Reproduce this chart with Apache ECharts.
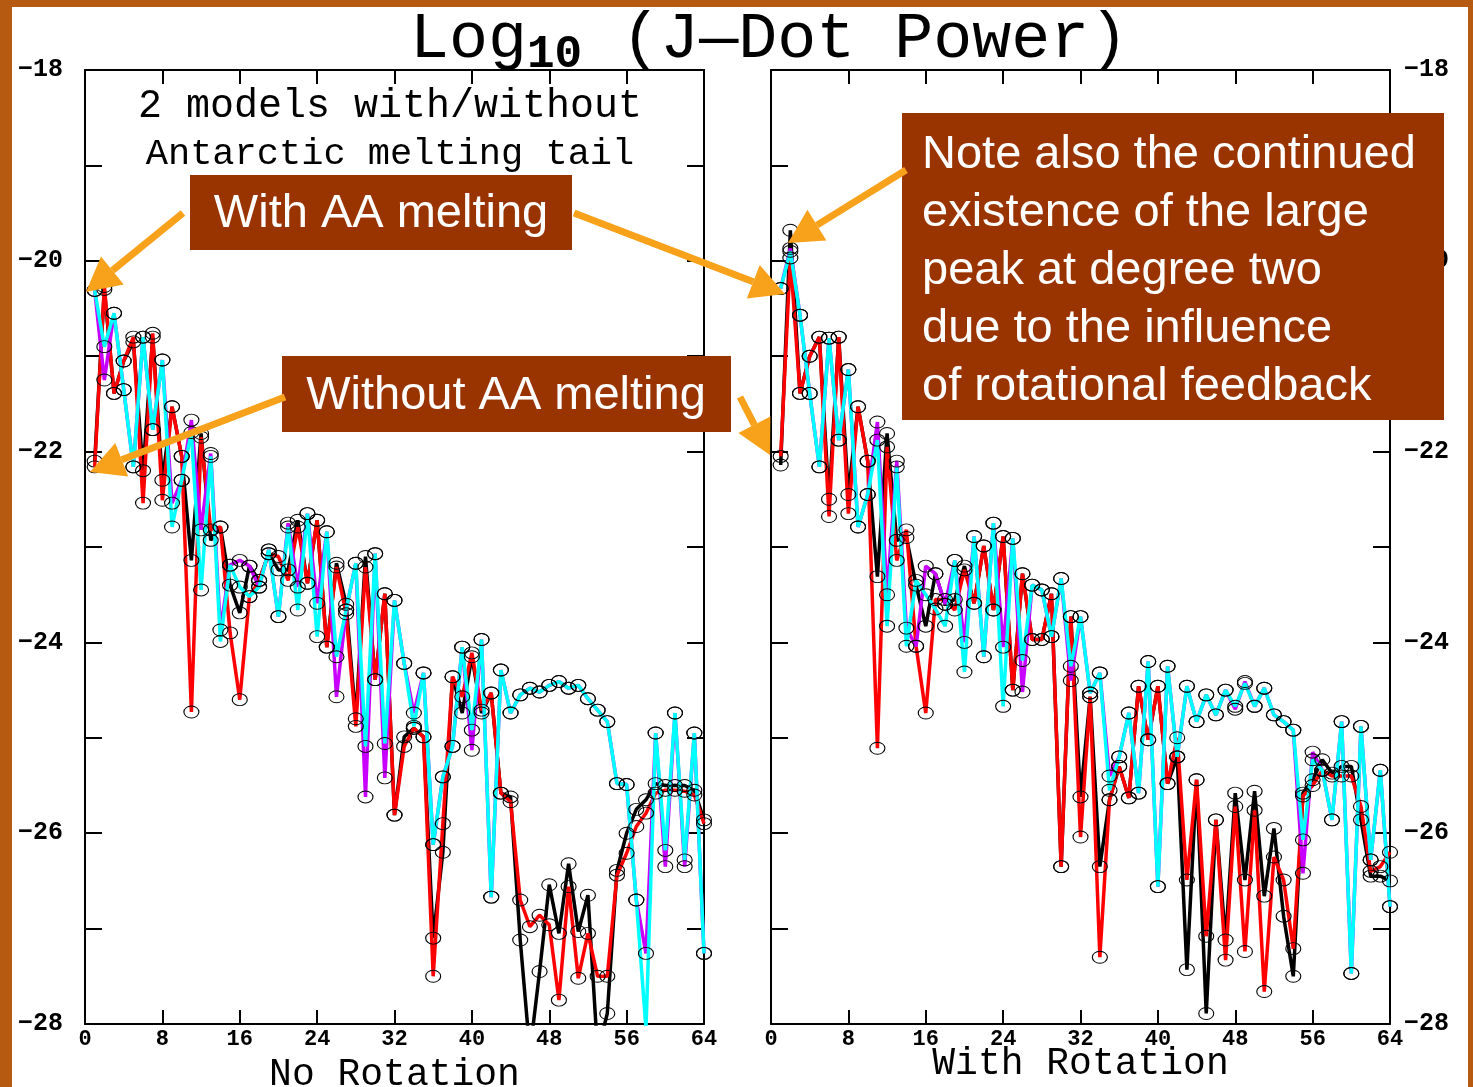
<!DOCTYPE html>
<html>
<head>
<meta charset="utf-8">
<script src="https://cdn.jsdelivr.net/npm/echarts@6/dist/echarts.min.js"></script>
<style>
html,body{margin:0;padding:0;background:#b65a12;}
#chart{width:1473px;height:1087px;}
</style>
</head>
<body>
<div id="chart"></div>
<script>
// spherical-harmonic degrees
const degrees = [1,2,3,4,5,6,7,8,9,10,11,12,13,14,15,16,17,18,19,20,21,22,23,24,25,26,27,28,29,30,31,32,
  33,34,35,36,37,38,39,40,41,42,43,44,45,46,47,48,49,50,51,52,53,54,55,56,57,58,59,60,61,62,63,64];

// ---- No Rotation panel ----
const blackL = [-22.10,-20.30,-21.39,-21.05,-20.85,-22.20,-20.80,-22.30,-21.53,-22.05,
 -23.14,-21.81,-22.93,-22.79,-23.40,-23.69,-23.20,-23.35,-23.07,-23.24,
 -23.24,-22.72,-23.38,-22.72,-24.05,-23.17,-23.60,-24.80,-23.10,-24.39,
 -23.49,-25.81,-24.99,-24.90,-24.99,-27.10,-26.20,-24.36,-24.74,-24.15,
 -24.74,-24.53,-25.58,-25.62,-27.12,-28.30,-27.45,-26.54,-27.05,-26.32,
 -27.03,-26.65,-28.30,-27.89,-26.39,-26.00,-25.75,-25.65,-25.48,-25.50,
 -25.50,-25.50,-25.55,-25.86];
const redL = [-22.16,-20.27,-21.39,-21.05,-20.80,-22.54,-20.76,-22.51,-21.53,-22.05,
 -24.73,-21.85,-22.82,-22.79,-23.90,-24.60,-23.52,-23.35,-23.07,-23.10,
 -23.35,-22.79,-23.38,-22.72,-24.05,-23.21,-23.70,-24.88,-23.21,-24.39,
 -23.49,-25.81,-25.09,-24.90,-24.99,-27.50,-25.90,-24.36,-24.57,-24.11,
 -24.71,-24.53,-25.58,-25.67,-26.70,-26.98,-26.86,-26.96,-27.75,-26.56,
 -27.52,-27.05,-27.50,-27.50,-26.44,-26.21,-25.93,-25.79,-25.58,-25.55,
 -25.55,-25.56,-25.60,-25.90];
const purpleL = [-20.31,-21.25,-20.55,-21.35,-22.16,-20.80,-21.77,-21.04,-22.54,-22.30,
 -21.67,-22.82,-22.02,-23.87,-23.19,-23.14,-23.20,-23.42,-23.03,-23.73,
 -22.75,-23.42,-22.65,-23.59,-22.84,-24.57,-23.66,-23.17,-25.62,-23.07,
 -25.42,-23.56,-24.22,-24.74,-24.32,-26.12,-25.41,-25.09,-24.05,-25.13,
 -23.97,-26.67,-24.29,-24.74,-24.55,-24.48,-24.52,-24.45,-24.41,-24.48,
 -24.45,-24.59,-24.71,-24.83,-25.48,-25.49,-26.70,-27.26,-24.95,-26.35,
 -24.74,-26.35,-24.95,-27.26];
const cyanL = [-20.31,-20.90,-20.55,-21.35,-22.16,-20.80,-21.77,-21.04,-22.79,-22.30,
 -21.80,-23.45,-22.05,-23.99,-23.19,-23.42,-23.52,-23.42,-23.03,-23.73,
 -22.79,-23.66,-22.65,-23.94,-22.84,-24.15,-23.66,-23.17,-25.09,-23.07,
 -25.06,-23.56,-24.22,-24.88,-24.32,-26.12,-25.41,-25.09,-24.05,-24.92,
 -23.97,-26.67,-24.29,-24.74,-24.55,-24.48,-24.52,-24.45,-24.41,-24.48,
 -24.45,-24.59,-24.71,-24.83,-25.48,-25.49,-26.70,-28.05,-24.95,-26.18,
 -24.74,-26.28,-24.95,-27.26];

// ---- With Rotation panel ----
const blackR = [-22.14,-19.68,-21.39,-21.00,-20.80,-22.50,-20.80,-22.45,-21.53,-22.10,
 -23.31,-21.81,-22.93,-22.90,-23.40,-23.83,-23.28,-23.60,-23.55,-23.20,
 -23.59,-22.99,-23.66,-22.89,-24.50,-23.28,-23.97,-23.97,-23.49,-26.35,
 -23.73,-25.62,-24.57,-26.35,-25.65,-25.30,-25.63,-24.46,-25.02,-24.46,
 -25.48,-25.20,-27.43,-25.44,-27.89,-25.86,-27.12,-25.58,-26.49,-25.56,
 -26.66,-25.95,-26.87,-27.50,-25.58,-25.44,-25.23,-25.37,-25.30,-25.30,
 -25.86,-26.45,-26.45,-26.50];
const redR = [-22.05,-19.97,-21.39,-21.00,-20.80,-22.68,-20.80,-22.65,-21.53,-22.10,
 -25.11,-21.95,-23.14,-22.82,-24.04,-24.74,-23.55,-23.55,-23.66,-23.24,
 -23.59,-22.99,-23.66,-22.89,-24.50,-23.28,-23.97,-23.97,-23.49,-26.35,
 -23.73,-26.04,-24.57,-27.30,-25.65,-25.30,-25.63,-24.46,-25.02,-24.46,
 -25.48,-25.00,-26.49,-25.44,-27.08,-25.86,-27.33,-25.72,-27.24,-25.76,
 -27.66,-26.25,-26.49,-27.21,-25.61,-25.50,-25.34,-25.40,-25.40,-25.40,
 -25.72,-26.40,-26.35,-26.20];
const purpleR = [-20.29,-19.87,-20.57,-21.39,-22.16,-20.81,-21.88,-21.14,-22.79,-22.45,
 -21.69,-23.50,-22.10,-23.85,-24.04,-23.20,-23.28,-23.60,-23.14,-24.00,
 -22.89,-24.15,-22.75,-24.05,-22.91,-24.52,-23.40,-23.45,-23.94,-23.33,
 -24.40,-23.73,-24.53,-24.32,-25.40,-25.20,-24.74,-25.58,-24.20,-26.56,
 -24.25,-25.20,-24.46,-24.83,-24.55,-24.76,-24.50,-24.70,-24.41,-24.67,
 -24.48,-24.76,-24.83,-24.92,-26.42,-25.15,-25.34,-25.86,-24.83,-27.47,
 -24.88,-26.28,-25.34,-26.77];
const cyanR = [-20.29,-19.90,-20.57,-21.39,-22.16,-20.81,-21.88,-21.14,-22.79,-22.45,
 -21.88,-23.83,-22.16,-24.04,-23.35,-23.50,-23.65,-23.83,-23.14,-24.31,
 -22.89,-24.15,-22.75,-24.67,-22.91,-24.19,-23.40,-23.45,-23.94,-23.33,
 -24.25,-23.73,-24.53,-24.32,-25.55,-25.20,-24.74,-25.58,-24.20,-26.56,
 -24.25,-25.20,-24.46,-24.83,-24.55,-24.76,-24.50,-24.67,-24.43,-24.67,
 -24.48,-24.76,-24.83,-24.92,-26.07,-25.23,-25.34,-25.86,-24.83,-27.47,
 -24.88,-26.28,-25.34,-26.77];

const xTicks = [0, 64, 8];     // min, max, interval
const yTicks = [-28, -18, 1];  // min, max, interval (labels every 2)

const titleText = '{a|Log}{b|10}{a| (J—Dot Power)}';
const panelNote = ['2 models with/without', 'Antarctic melting tail'];
const panelNames = ['No Rotation', 'With Rotation'];
const noteBoxes = ['With AA melting', 'Without AA melting',
  'Note also the continued\nexistence of the large\npeak at degree two\ndue to the influence\nof rotational feedback'];

const chart = echarts.init(document.getElementById('chart'), null, {renderer: 'canvas'});

const MONO = '"Liberation Mono", "DejaVu Sans Mono", monospace';
const SANS = '"Liberation Sans", Arial, sans-serif';
const ORANGE = '#f8a11a';
const BOX = '#993300';

function xAxisDef(grid, pos, showLabel, name, gap) {
  return {
    type: 'value', gridIndex: grid, position: pos,
    min: xTicks[0], max: xTicks[1], interval: xTicks[2],
    axisLine: {show: true, onZero: false, lineStyle: {color: '#000', width: 2}},
    axisTick: {show: true, inside: true, length: 14, lineStyle: {color: '#000', width: 2}},
    axisLabel: {show: showLabel, margin: 4, color: '#000', fontFamily: MONO, fontWeight: 'bold', fontSize: 22,
      showMinLabel: true, showMaxLabel: true},
    splitLine: {show: false},
    name: name || '', nameLocation: 'middle', nameGap: gap || 0, nameMoveOverlap: false,
    nameTextStyle: {color: '#000', fontFamily: MONO, fontSize: 38}
  };
}
function yAxisDef(grid, pos, showLabel, margin) {
  return {
    type: 'value', gridIndex: grid, position: pos,
    min: yTicks[0], max: yTicks[1], interval: yTicks[2],
    axisLine: {show: true, onZero: false, lineStyle: {color: '#000', width: 2}},
    axisTick: {show: true, inside: true, length: 17, lineStyle: {color: '#000', width: 2}},
    axisLabel: {show: showLabel, margin: margin || 8, color: '#000', fontFamily: MONO, fontWeight: 'bold', fontSize: 25,
      showMinLabel: true, showMaxLabel: true,
      formatter: v => (Math.round(v) % 2 === 0) ? (v < 0 ? '\u2212' + Math.abs(v) : String(v)) : ''},
    splitLine: {show: false}
  };
}

function lineSeries(vals, color, xi, yi) {
  return {
    type: 'line', xAxisIndex: xi, yAxisIndex: yi,
    data: degrees.map((d, i) => [d, vals[i]]),
    symbol: 'circle', symbolSize: [15, 12],
    itemStyle: {color: 'rgba(0,0,0,0)', borderColor: '#000', borderWidth: 1},
    lineStyle: {color: color, width: 3.5},
    clip: true, animation: false, silent: true,
    emphasis: {disabled: true}
  };
}

function arrow(x1, y1, x2, y2) {
  const dx = x2 - x1, dy = y2 - y1, len = Math.hypot(dx, dy);
  const ux = dx / len, uy = dy / len, L = 34, W = 18;
  const bx = x2 - ux * L, by = y2 - uy * L;
  return [
    {type: 'line', z: 110, shape: {x1: x1, y1: y1, x2: bx, y2: by},
     style: {stroke: ORANGE, lineWidth: 7}},
    {type: 'polygon', z: 110, shape: {points: [[x2, y2], [bx - uy * W, by + ux * W], [bx + uy * W, by - ux * W]]},
     style: {fill: ORANGE}}
  ];
}

function box(x, y, w, h) {
  return {type: 'rect', z: 100, shape: {x: x, y: y, width: w, height: h}, style: {fill: BOX}};
}

const graphics = [
  {type: 'rect', z: -100, silent: true, shape: {x: 12, y: 7, width: 1456, height: 1080}, style: {fill: '#ffffff'}},
  {type: 'text', z: 50, x: 410, y: 40, style: {
    text: titleText, fill: '#000', verticalAlign: 'middle', align: 'left',
    rich: {
      a: {fontFamily: MONO, fontSize: 65, lineHeight: 76, verticalAlign: 'middle', fill: '#000'},
      b: {fontFamily: MONO, fontSize: 46, fontWeight: 'bold', lineHeight: 46, verticalAlign: 'bottom', fill: '#000'}
    }}},
  {type: 'text', z: 50, x: 390, y: 106, style: {text: panelNote[0], fill: '#000', font: '40px ' + MONO, align: 'center', verticalAlign: 'middle'}},
  {type: 'text', z: 50, x: 390, y: 154, style: {text: panelNote[1], fill: '#000', font: '37px ' + MONO, align: 'center', verticalAlign: 'middle'}},
  box(190, 175, 382, 75),
  {type: 'text', z: 101, x: 381, y: 214, style: {text: noteBoxes[0], fill: '#fff', font: '47px ' + SANS, align: 'center', verticalAlign: 'middle'}},
  box(282, 356, 449, 76),
  {type: 'text', z: 101, x: 506, y: 396, style: {text: noteBoxes[1], fill: '#fff', font: '47px ' + SANS, align: 'center', verticalAlign: 'middle'}},
  box(902, 113, 542, 307),
  {type: 'text', z: 101, x: 922, y: 271, style: {text: noteBoxes[2], fill: '#fff', font: '47px ' + SANS, lineHeight: 58, align: 'left', verticalAlign: 'middle'}},
  ...arrow(183, 213, 86, 292),
  ...arrow(574, 213, 785, 294),
  ...arrow(906, 170, 788, 243),
  ...arrow(285, 397, 90, 472),
  ...arrow(740, 397, 770, 455)
];

const option = {
  backgroundColor: '#b65a12',
  animation: false,
  grid: [
    {left: 85, top: 70, width: 619, height: 954, containLabel: false, outerBoundsMode: 'none'},
    {left: 771, top: 70, width: 619, height: 954, containLabel: false, outerBoundsMode: 'none'}
  ],
  xAxis: [
    xAxisDef(0, 'bottom', true, panelNames[0], 32),
    xAxisDef(0, 'top', false),
    xAxisDef(1, 'bottom', true, panelNames[1], 21),
    xAxisDef(1, 'top', false)
  ],
  yAxis: [
    yAxisDef(0, 'left', true, 22),
    yAxisDef(0, 'right', false),
    yAxisDef(1, 'left', false),
    yAxisDef(1, 'right', true, 14)
  ],
  series: [
    lineSeries(blackL, '#000000', 0, 0),
    lineSeries(redL, '#ff0000', 0, 0),
    lineSeries(purpleL, '#c800ff', 0, 0),
    lineSeries(cyanL, '#00ffff', 0, 0),
    lineSeries(blackR, '#000000', 2, 2),
    lineSeries(redR, '#ff0000', 2, 2),
    lineSeries(purpleR, '#c800ff', 2, 2),
    lineSeries(cyanR, '#00ffff', 2, 2)
  ],
  graphic: graphics
};
chart.setOption(option);
</script>
</body>
</html>
